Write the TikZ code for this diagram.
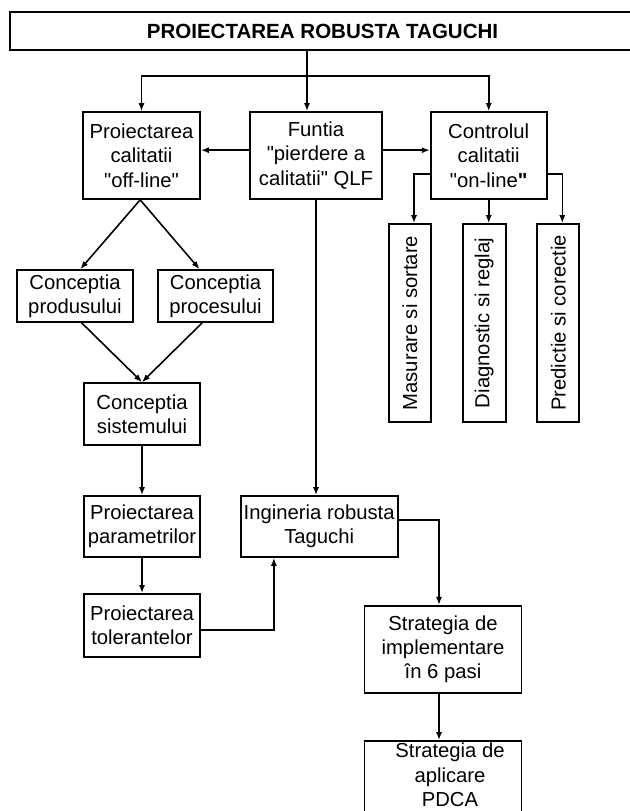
\documentclass[tikz,border=0pt]{standalone}
\usepackage{fontspec}
\newfontfamily\arialfont{Liberation Sans}
\usetikzlibrary{arrows.meta, positioning, calc}

\tikzset{
  blk/.style={draw, line width=1.3pt, align=center, inner sep=1pt,
    font=\arialfont\fontsize{15.2}{18.3}\selectfont},
  txt/.style={align=center, inner sep=1pt,
    font=\arialfont\fontsize{15.2}{18.3}\selectfont},
  sz/.style 2 args={minimum width=#1*0.75pt, minimum height=#2*0.75pt},
  conn/.style={line width=1.2pt, ->}
}

\begin{document}
\begin{tikzpicture}[x=0.75pt, y=-0.75pt, >={Latex[length=6pt,width=4.6pt]}]
  \useasboundingbox (0,0) rectangle (629,811);

  % title bar, runs off the right edge
  \node[blk, sz={625}{38}, font=\arialfont\bfseries\fontsize{15.4}{18}\selectfont] (title) at (322.5,31) {PROIECTAREA ROBUSTA TAGUCHI};

  % first row
  \node[blk, sz={117}{87}] (offline) at (141.5,155.5) {Proiectarea\\calitatii\\"off-line"};
  \node[blk, sz={132}{87}] (qlf) at (316,155.5) {Funtia\\"pierdere a\\calitatii" QLF};
  \node[blk, sz={116}{87}] (online) at (488.7,155.5) {Controlul\\calitatii\\"on-line\textbf{"}};

  % on-line branches
  \node[blk, sz={42}{198}] (masur) at (410,323) {\rotatebox{90}{Masurare si sortare}};
  \node[blk, sz={43}{198}] (diag) at (484.2,323) {\rotatebox{90}{Diagnostic si reglaj}};
  \node[blk, sz={42}{198}] (pred) at (558.3,323) {\rotatebox{90}{Predictie si corectie}};

  % off-line chain
  \node[blk, sz={116}{52}] (prod) at (75,296) {Conceptia\\produsului};
  \node[blk, sz={115}{52}] (proc) at (215.5,296) {Conceptia\\procesului};
  \node[blk, sz={116}{62}] (sist) at (142,414) {Conceptia\\sistemului};
  \node[blk, sz={116}{61}] (param) at (142,526.5) {Proiectarea\\parametrilor};
  \node[blk, sz={116}{63}] (toler) at (142,625.5) {Proiectarea\\tolerantelor};

  % robust engineering and strategies
  \node[blk, sz={157}{61}] (ing) at (319.2,526.5) {Ingineria robusta\\Taguchi};
  \node[blk, sz={157}{87}] (impl) at (443,649.3) {Strategia de\\implementare\\în 6 pasi};
  \node[blk, sz={157}{75}] (pdca) at (443,778.5) {};
  \node[txt] (pdcatext) at (450,775) {Strategia de\\aplicare\\PDCA};

  % connectors
  \coordinate (split) at (307,76);
  \draw[conn] (title.south -| split) -- (qlf.north -| split);
  \draw[conn] (split) -| (offline.north);
  \draw[conn] (split) -| (online.north);

  \draw[conn] ([yshift=4pt]qlf.west) -- ([yshift=4pt]offline.east);
  \draw[conn] ([yshift=4pt]qlf.east) -- ([yshift=4pt]online.west);
  \draw[conn] ([yshift=-14pt]online.west) -| ([xshift=3pt]masur.north);
  \draw[conn] (online.south) -- (online.south |- diag.north);
  \draw[conn] ([yshift=-14pt]online.east) -| ([xshift=3pt]pred.north);

  \draw[conn] ([xshift=-1pt]offline.south) -- ([xshift=4pt]prod.north);
  \draw[conn] ([xshift=-1pt]offline.south) -- ([xshift=-12pt]proc.north);
  \draw[conn] ([xshift=5pt]prod.south) -- (sist.north);
  \draw[conn] ([xshift=-10pt]proc.south) -- (sist.north);
  \draw[conn] (sist.south) -- (param.north);
  \draw[conn] (param.south) -- (toler.north);
  \draw[conn] ([yshift=-3.4pt]toler.east) -| ([xshift=-34pt]ing.south);

  \draw[conn] (qlf.south) -- (qlf.south |- ing.north);
  \draw[conn] ([yshift=5pt]ing.east) -| ([xshift=-3pt]impl.north);
  \draw[conn] ([xshift=-3pt]impl.south) -- ([xshift=-3pt]pdca.north);
\end{tikzpicture}
\end{document}
